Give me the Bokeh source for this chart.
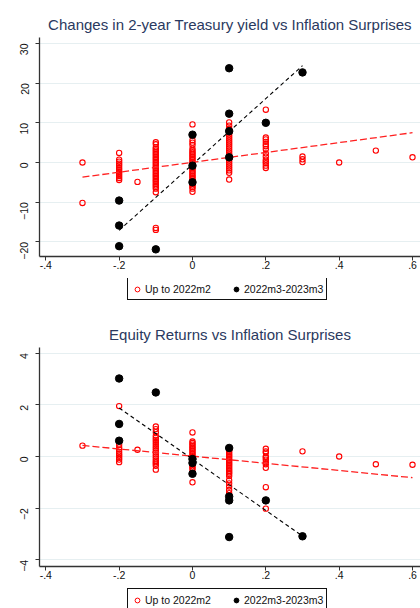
import math
from bokeh.plotting import figure
from bokeh.models import FixedTicker, Legend, LegendItem
from bokeh.layouts import column
from bokeh.embed import file_html
from bokeh.resources import INLINE

# ---------------- data ----------------
x_ticks = [-0.4, -0.2, 0, 0.2, 0.4, 0.6]
x_tick_labels = ["-.4", "-.2", "0", ".2", ".4", ".6"]

early_groups = [-0.3, -0.2, -0.15, -0.1, 0.0, 0.1, 0.2, 0.3, 0.4, 0.5, 0.6]

# 2-year Treasury yield changes, Up to 2022m2 (one list per surprise group)
yld_m030 = [0.0, -10.2]
yld_m020 = [2.4, 0.7, 0.2, -0.3, -0.8, -1.4, -1.9, -2.4, -2.9, -3.4, -3.9, -4.4]
yld_m015 = [-4.9]
yld_m010 = [5.1, 4.6, 3.8, 3.4, 3.0, 2.6, 2.2, 1.8, 1.4, 1.0, 0.6, 0.2, -0.2, -0.6,
            -1.0, -1.4, -1.8, -2.2, -2.6, -3.0, -3.4, -3.8, -4.2, -4.6, -5.0, -5.4,
            -5.8, -6.2, -6.6, -7.5, -16.5, -17.0]
yld_p000 = [9.6, 5.6, 5.0, 4.4, 3.5, 3.0, 2.6, 2.2, 1.8, 1.4, 1.0, 0.6, 0.2, -0.2,
            -0.6, -1.0, -1.4, -1.8, -2.2, -2.6, -3.0, -3.4, -3.8, -4.2, -4.6, -5.0,
            -5.4, -5.8, -6.2, -6.6, -7.4]
yld_p010 = [10.1, 9.3, 8.5, 8.0, 7.5, 7.0, 6.5, 6.0, 5.5, 5.0, 4.5, 4.0, 3.5, 3.0,
            2.5, 2.0, 1.5, 1.0, 0.5, 0.0, -0.5, -1.0, -1.5, -2.0, -2.6, -4.3]
yld_p020 = [13.3, 6.3, 5.8, 5.2, 4.6, 4.1, 3.4, 2.3, 1.5, 0.7, 0.2, -0.2, -0.8, -1.4]
yld_p030 = [1.5, 0.8, 0.1]
yld_p040 = [0.0]
yld_p050 = [3.0]
yld_p060 = [1.3]

# Equity returns, Up to 2022m2
eq_m030 = [0.42]
eq_m020 = [1.95, 0.45, 0.35, 0.27, 0.18, 0.1, 0.03, -0.05, -0.12, -0.22]
eq_m015 = [0.26]
eq_m010 = [1.16, 1.06, 0.94, 0.8, 0.72, 0.64, 0.56, 0.48, 0.4, 0.32, 0.24, 0.16,
           0.08, 0.0, -0.08, -0.16, -0.22, -0.28, -0.36, -0.51]
eq_p000 = [0.93, 0.58, 0.52, 0.46, 0.4, 0.34, 0.28, 0.22, 0.16, 0.1, 0.04, -0.02,
           -0.08, -0.14, -0.2, -0.26, -0.32, -0.38, -0.44, -0.5, -1.0]
eq_p010 = [0.28, 0.22, 0.16, 0.1, 0.04, -0.02, -0.08, -0.14, -0.2, -0.26, -0.32,
           -0.38, -0.44, -0.5, -0.56, -0.62, -0.68, -0.76, -0.92, -1.04, -1.16,
           -1.3, -1.42]
eq_p020 = [0.3, 0.2, 0.15, 0.0, -0.05, -0.12, -0.22, -0.3, -0.44, -1.19, -2.02]
eq_p030 = [0.2]
eq_p040 = [0.0]
eq_p050 = [-0.3]
eq_p060 = [-0.32]

# 2022m3-2023m3 sample
late_x = [-0.2, -0.2, -0.2, -0.1, 0.0, 0.0, 0.0, 0.1, 0.1, 0.1, 0.1, 0.2, 0.3]
late_yld = [-9.6, -15.9, -21.1, -21.9, 7.0, -0.8, -5.0, 23.75, 12.3, 7.9, 1.3, 10.0, 22.7]
late_eq = [3.02, 1.26, 0.61, 2.48, -0.1, -0.25, -0.67, 0.33, -1.55, -1.7, -3.12, -1.7, -3.09]

# linear fits (endpoints)
fit_early_x = [-0.3, 0.6]
fit_late_x = [-0.2, 0.3]
fit_early_yld = [-3.7, 7.5]
fit_late_yld = [-17.1, 24.4]
fit_early_eq = [0.43, -0.82]
fit_late_eq = [1.88, -3.08]

yld_ticks = [-20, -10, 0, 10, 20, 30]
eq_ticks = [-4, -2, 0, 2, 4]

legend_labels = ["Up to 2022m2", "2022m3-2023m3"]


def flatten(groups, lists):
    xs, ys = [], []
    for gx, gl in zip(groups, lists):
        for v in gl:
            xs.append(gx)
            ys.append(v)
    return xs, ys


yld_early_x, yld_early_y = flatten(early_groups, [yld_m030, yld_m020, yld_m015, yld_m010, yld_p000,
                                                  yld_p010, yld_p020, yld_p030, yld_p040, yld_p050, yld_p060])
eq_early_x, eq_early_y = flatten(early_groups, [eq_m030, eq_m020, eq_m015, eq_m010, eq_p000,
                                                eq_p010, eq_p020, eq_p030, eq_p040, eq_p050, eq_p060])

FONT = "Liberation Sans"
TITLE_COLOR = "#2a3960"
GRID = "#e6eff1"
RED = "#ff0000"
W = 420
XR = (-0.4172, 0.6218)


def panel(title, ex, ey, lx, ly, fey, fly, yr, yticks):
    p = figure(width=W, height=278, x_range=XR, y_range=yr,
               output_backend="svg", toolbar_location=None,
               min_border_left=39, min_border_right=0, min_border_top=37,
               min_border_bottom=22)
    p.title.text = title
    p.title.align = "center"
    p.title.text_font = FONT
    p.title.text_font_size = "15px"
    p.title.text_font_style = "normal"
    p.title.text_color = TITLE_COLOR
    p.outline_line_color = None

    p.xgrid.visible = False
    p.ygrid.ticker = FixedTicker(ticks=yticks)
    p.ygrid.grid_line_color = GRID

    p.xaxis.ticker = FixedTicker(ticks=x_ticks)
    p.xaxis.major_label_overrides = {t: l for t, l in zip(x_ticks, x_tick_labels)}
    p.yaxis.ticker = FixedTicker(ticks=yticks)
    p.yaxis.major_label_orientation = math.pi / 2
    for ax in (p.xaxis, p.yaxis):
        ax.axis_line_color = "#333333"
        ax.axis_line_width = 1.3
        ax.major_tick_line_color = "#333333"
        ax.major_tick_out = 4
        ax.major_tick_in = 0
        ax.minor_tick_line_color = None
        ax.major_label_text_font = FONT
        ax.major_label_text_font_size = "10.5px"
        ax.major_label_text_color = "#111111"
    p.xaxis.major_label_standoff = 0
    p.yaxis.major_label_standoff = 11

    p.scatter(ex, ey, size=5.3, marker="circle", fill_color=None,
              line_color=RED, line_width=1.1)
    p.line(fit_early_x, fey, line_color="#ff2020", line_width=1.3, line_dash="7 3")
    p.scatter(lx, ly, size=7.5, marker="circle", fill_color="black",
              line_color="black")
    p.line(fit_late_x, fly, line_color="black", line_width=1.1, line_dash="4 3")
    return p


def legend_strip(height, yloc):
    lp = figure(width=W, height=height, x_range=(0, 1), y_range=(0, 1),
                output_backend="svg", toolbar_location=None,
                x_axis_location=None, y_axis_location=None,
                min_border_left=39, min_border_right=0, min_border_top=0,
                min_border_bottom=0)
    lp.outline_line_color = None
    lp.grid.visible = False
    # off-screen proxies so the legend can draw its glyphs
    r1 = lp.scatter([-5], [-5], size=5, marker="circle", fill_color=None,
                    line_color=RED, line_width=1)
    r2 = lp.scatter([-5], [-5], size=7.5, marker="circle", fill_color="black",
                    line_color="black")
    legend = Legend(items=[LegendItem(label=legend_labels[0], renderers=[r1]),
                           LegendItem(label=legend_labels[1], renderers=[r2])],
                    orientation="horizontal", location=(88, yloc),
                    border_line_color="#111111", border_line_width=1.2,
                    border_line_alpha=1.0,
                    label_text_font=FONT, label_text_font_size="10.5px",
                    label_text_color="#111111",
                    glyph_width=12, glyph_height=14, label_height=15,
                    padding=3, spacing=19, label_standoff=2, margin=0)
    lp.add_layout(legend)
    return lp


p1 = panel("Changes in 2-year Treasury yield vs Inflation Surprises",
           yld_early_x, yld_early_y, late_x, late_yld, fit_early_yld, fit_late_yld,
           (-23.7, 31.5), yld_ticks)
l1 = legend_strip(32, 10)
p2 = panel("Equity Returns vs Inflation Surprises",
           eq_early_x, eq_early_y, late_x, late_eq, fit_early_eq, fit_late_eq,
           (-4.26, 4.22), eq_ticks)
l2 = legend_strip(20, -3)

layout = column(p1, l1, p2, l2, spacing=0)
open("out.html", "w").write(file_html(layout, INLINE))
